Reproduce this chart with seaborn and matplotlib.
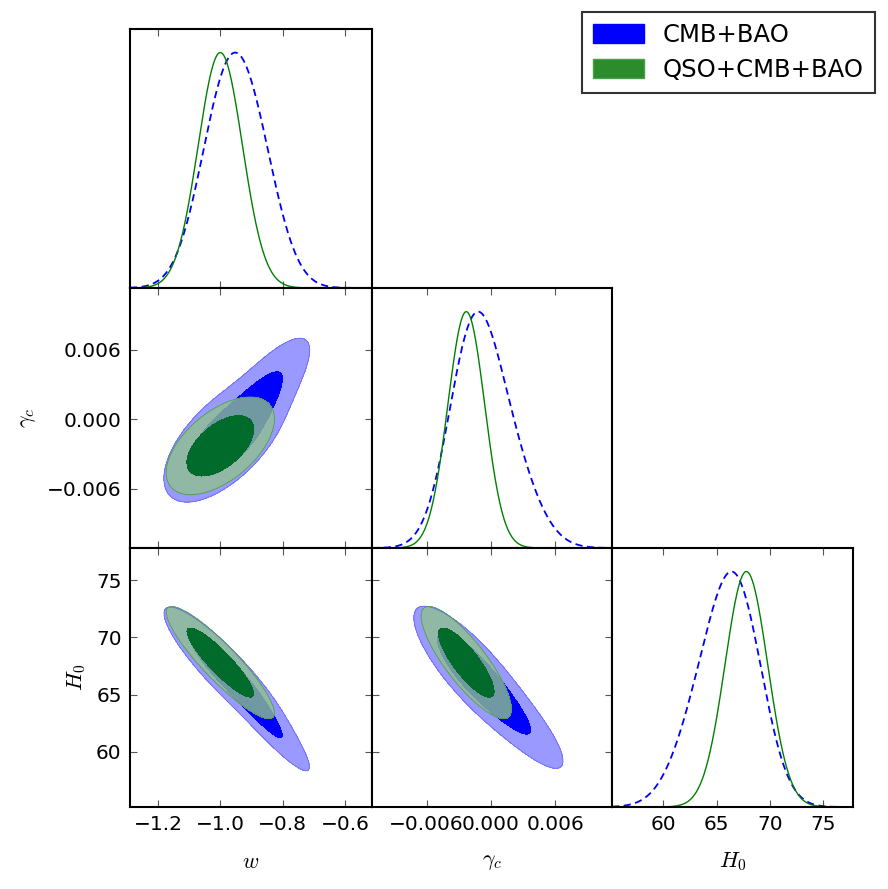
import numpy as np
import pandas as pd
import matplotlib
matplotlib.use("Agg")
import matplotlib.pyplot as plt
import seaborn as sns
from matplotlib.patches import Patch
from matplotlib.ticker import FixedLocator, FixedFormatter

sns.set_theme(style="white")
plt.rcParams["font.family"] = ["DejaVu Sans"]
plt.rcParams["mathtext.fontset"] = "cm"
plt.rcParams["text.color"] = "black"
plt.rcParams["axes.labelcolor"] = "black"

# ---------------- data ----------------
param_labels = [r"$w$", r"$\gamma_c$", r"$H_0$"]
axis_limits = [(-1.29, -0.513), (-0.0111, 0.0113), (55.2, 77.8)]
tick_values = [[-1.2, -1.0, -0.8, -0.6], [-0.006, 0.0, 0.006], [60, 65, 70, 75]]
tick_labels = [["\u22121.2", "\u22121.0", "\u22120.8", "\u22120.6"],
               ["\u22120.006", "0.000", "0.006"],
               ["60", "65", "70", "75"]]

series_names = ["CMB+BAO", "QSO+CMB+BAO"]

# CMB+BAO posterior (two-component gaussian mixture over w, gamma_c, H0)
cmb_weights = [0.65, 0.35]
cmb_means = [[-0.985, -0.0018, 67.1], [-0.885, 0.0014, 63.9]]
cmb_sigmas = [[0.085, 0.0023, 2.4], [0.08, 0.0026, 2.6]]
cmb_corr = [[0.62, -0.9, -0.82], [0.82, -0.94, -0.88]]   # (w,gc), (w,H0), (gc,H0)

# QSO+CMB+BAO posterior
qso_weights = [1.0]
qso_means = [[-1.0, -0.0023, 67.8]]
qso_sigmas = [[0.071, 0.00172, 2.0]]
qso_corr = [[0.55, -0.9, -0.83]]

# ---------------- helpers ----------------
def cov_matrix(sig, corr):
    r = np.array([[1.0, corr[0], corr[1]],
                  [corr[0], 1.0, corr[2]],
                  [corr[1], corr[2], 1.0]])
    s = np.asarray(sig, dtype=float)
    return r * np.outer(s, s)

def mix1d(x, weights, means, sigmas, i):
    tot = np.zeros_like(x)
    for wk, mk, sk in zip(weights, means, sigmas):
        tot += wk * np.exp(-0.5 * ((x - mk[i]) / sk[i]) ** 2) / sk[i]
    return tot / tot.max()

def mix2d(X, Y, weights, means, sigmas, corrs, i, j):
    tot = np.zeros_like(X)
    for wk, mk, sk, ck in zip(weights, means, sigmas, corrs):
        C = cov_matrix(sk, ck)
        sub = C[np.ix_([i, j], [i, j])]
        inv = np.linalg.inv(sub)
        det = np.linalg.det(sub)
        dx = X - mk[i]
        dy = Y - mk[j]
        q = inv[0, 0] * dx * dx + 2 * inv[0, 1] * dx * dy + inv[1, 1] * dy * dy
        tot += wk * np.exp(-0.5 * q) / np.sqrt(det)
    return tot

def hpd_levels(P, probs=(0.95, 0.68)):
    flat = np.sort(P.ravel())[::-1]
    cum = np.cumsum(flat)
    cum /= cum[-1]
    return [flat[np.searchsorted(cum, p)] for p in probs]

datasets = [
    dict(weights=cmb_weights, means=cmb_means, sigmas=cmb_sigmas, corr=cmb_corr,
         outer="#9999ff", inner="#0000ff", outer_alpha=1.0, edge="#6a6aff",
         line="#0000ff", ls="--", lw=1.3),
    dict(weights=qso_weights, means=qso_means, sigmas=qso_sigmas, corr=qso_corr,
         outer=(142/255, 192/255, 142/255), inner="#006b2b", outer_alpha=0.8,
         edge="#4f9a5a", line="#008000", ls="-", lw=1.0),
]

# ---------------- figure ----------------
W, H = 888, 889
fig = plt.figure(figsize=(W / 100, H / 100), dpi=100)
edges_x = [130, 372, 612, 853]
edges_y = [29, 288, 548, 807]

def grid_for(i, n=500):
    lo, hi = axis_limits[i]
    ext = (hi - lo) * 0.35
    return np.linspace(lo - ext, hi + ext, n)

tick_kw = dict(direction="in", length=5, width=0.8, color="#555555",
               labelsize=14.5, pad=6, labelcolor="black")

for r in range(3):
    for c in range(r + 1):
        x0, x1 = edges_x[c], edges_x[c + 1]
        y0, y1 = edges_y[r], edges_y[r + 1]
        ax = fig.add_axes([x0 / W, (H - y1) / H, (x1 - x0) / W, (y1 - y0) / H])
        for sp in ax.spines.values():
            sp.set_visible(True)
            sp.set_color("black")
            sp.set_linewidth(1.5)
        if r == c:
            xs = np.linspace(axis_limits[c][0], axis_limits[c][1], 600)
            for d in datasets:
                ys = mix1d(xs, d["weights"], d["means"], d["sigmas"], c)
                df = pd.DataFrame({"x": xs, "y": ys})
                sns.lineplot(data=df, x="x", y="y", ax=ax, color=d["line"],
                             linestyle=d["ls"], linewidth=d["lw"],
                             estimator=None, sort=False)
                if d["ls"] == "--":
                    ax.lines[-1].set_dashes((4, 2.5))
            ax.set_ylim(0, 1.1)
            ax.set_yticks([])
            ax.tick_params(axis="x", top=True, bottom=True, **tick_kw)
        else:
            gx = grid_for(c)
            gy = grid_for(r)
            X, Y = np.meshgrid(gx, gy)
            for d in datasets:
                P = mix2d(X, Y, d["weights"], d["means"], d["sigmas"], d["corr"], c, r)
                l95, l68 = hpd_levels(P)
                pmax = P.max() * 1.01
                ax.contourf(X, Y, P, levels=[l95, pmax], colors=[d["outer"]],
                            alpha=d["outer_alpha"])
                ax.contour(X, Y, P, levels=[l95], colors=[d["edge"]], linewidths=0.6)
                ax.contourf(X, Y, P, levels=[l68, pmax], colors=[d["inner"]])
            ax.set_ylim(*axis_limits[r])
            ax.yaxis.set_major_locator(FixedLocator(tick_values[r]))
            ax.yaxis.set_major_formatter(FixedFormatter(tick_labels[r]))
            ax.tick_params(axis="both", top=True, bottom=True, left=True, right=True,
                           **tick_kw)
            if c == 0:
                ax.set_ylabel(param_labels[r], fontsize=16, va="center")
                xpos = {1: 28, 2: 77}[r]
                ax.yaxis.set_label_coords((xpos - x0) / (x1 - x0), 0.5)
            else:
                ax.set_yticklabels([])
                ax.set_ylabel("")
        ax.set_xlim(*axis_limits[c])
        ax.xaxis.set_major_locator(FixedLocator(tick_values[c]))
        ax.xaxis.set_major_formatter(FixedFormatter(tick_labels[c]))
        if r == 2:
            ax.set_xlabel(param_labels[c], fontsize=16, va="center")
            ax.xaxis.set_label_coords(0.5, -(862 - y1) / (y1 - y0))
        else:
            ax.set_xticklabels([])
            ax.set_xlabel("")
        if r == c:
            ax.set_ylabel("")

handles = [Patch(facecolor="#0000ff", edgecolor="#0000ff"),
           Patch(facecolor="#2a8c2a", edgecolor="#4aa04a")]
leg = fig.legend(handles, series_names, loc="upper right",
                 bbox_to_anchor=(875 / W, 1 - 12 / H), fontsize=17.5,
                 frameon=True, fancybox=False, handlelength=2.1, handleheight=0.8,
                 handletextpad=0.8, labelspacing=0.45, borderpad=0.45,
                 borderaxespad=0.0)
leg.get_frame().set_edgecolor("black")
leg.get_frame().set_linewidth(1.5)
for t in leg.get_texts():
    t.set_color("black")

fig.savefig("out.png", dpi=100)
